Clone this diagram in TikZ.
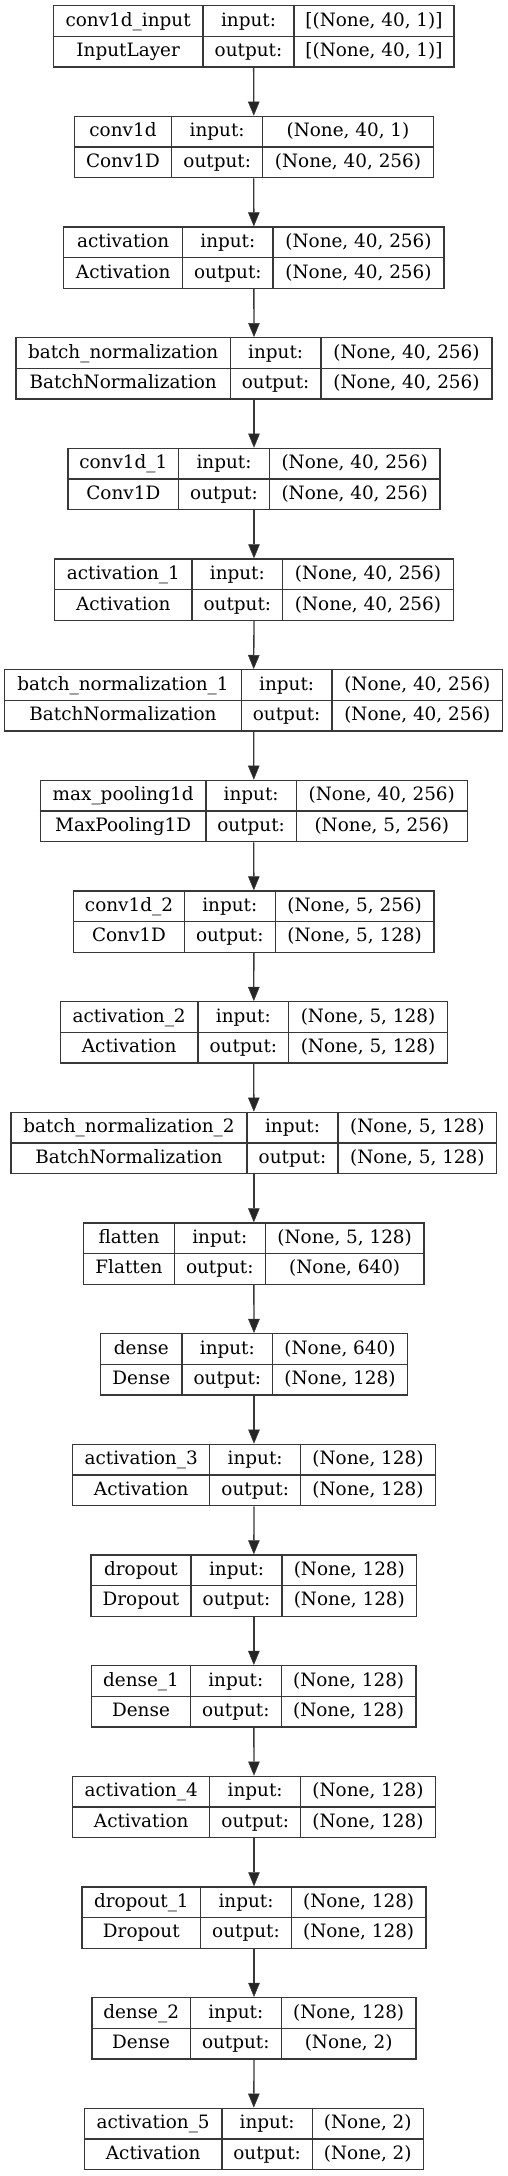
\documentclass[tikz,border=0pt]{standalone}
\usepackage{fontspec}
\setmainfont{DejaVu Serif}
\usetikzlibrary{arrows.meta}
\begin{document}
\begin{tikzpicture}[x=1pt,y=-1pt,
  layerbox/.style={draw=black!78, rectangle, inner sep=0pt, line width=1.33pt},
  divider/.style={draw=black!78, line width=1.33pt},
  txt/.style={anchor=base, inner sep=0pt, font=\fontsize{18.4}{22}\selectfont},
  conn/.style={draw=black!78, line width=1.33pt, -{Triangle[length=14pt,width=11.5pt,fill=black!85,line width=0.5pt]}}]
\useasboundingbox (0,0) rectangle (508,2176);
\foreach \i/\xl/\da/\db/\xr/\lname/\cls/\ish/\osh in {
1/53.3/203/294/454/conv1d\_input/InputLayer/{[(None, 40, 1)]}/{[(None, 40, 1)]},
2/74.3/171.7/262.7/433.3/conv1d/Conv1D/{(None, 40, 1)}/{(None, 40, 256)},
3/63.7/182.7/273/444/activation/Activation/{(None, 40, 256)}/{(None, 40, 256)},
4/16/230.3/321/492/batch\_normalization/BatchNormalization/{(None, 40, 256)}/{(None, 40, 256)},
5/68/178.7/269.3/440/conv1d\_1/Conv1D/{(None, 40, 256)}/{(None, 40, 256)},
6/54.7/192/282.7/453.3/activation\_1/Activation/{(None, 40, 256)}/{(None, 40, 256)},
7/4.7/241.3/332/502.7/batch\_normalization\_1/BatchNormalization/{(None, 40, 256)}/{(None, 40, 256)},
8/40.3/206/296.3/467.3/max\_pooling1d/MaxPooling1D/{(None, 40, 256)}/{(None, 5, 256)},
9/73.7/184.3/275.3/434/conv1d\_2/Conv1D/{(None, 5, 256)}/{(None, 5, 128)},
10/60.3/198/288.7/447.3/activation\_2/Activation/{(None, 5, 128)}/{(None, 5, 128)},
11/11/247/338/496.7/batch\_normalization\_2/BatchNormalization/{(None, 5, 128)}/{(None, 5, 128)},
12/83.7/174.3/265.3/424/flatten/Flatten/{(None, 5, 128)}/{(None, 640)},
13/100.7/182/272.7/407.3/dense/Dense/{(None, 640)}/{(None, 128)},
14/72.7/209.7/300.7/435.3/activation\_3/Activation/{(None, 128)}/{(None, 128)},
15/91/191/282/416.7/dropout/Dropout/{(None, 128)}/{(None, 128)},
16/91.7/190.3/281.3/416/dense\_1/Dense/{(None, 128)}/{(None, 128)},
17/72.7/209.7/300.7/435.3/activation\_4/Activation/{(None, 128)}/{(None, 128)},
18/82/200.7/291.3/426/dropout\_1/Dropout/{(None, 128)}/{(None, 128)},
19/92/190.3/281.3/416/dense\_2/Dense/{(None, 128)}/{(None, 2)},
20/84.3/222/312.3/423.3/activation\_5/Activation/{(None, 2)}/{(None, 2)}}{
  \pgfmathsetmacro\ty{5.7+(\i-1)*110.66}
  \pgfmathsetmacro\cx{(\xl+\xr)/2}
  \pgfmathsetmacro\w{\xr-\xl}
  \node[layerbox, minimum width=\w pt, minimum height=61.3pt] (L\i) at (\cx,\ty+30.65) {};
  \draw[divider] (L\i.west) -- (L\i.east);
  \draw[divider] (\da,0 |- L\i.north) -- (\da,0 |- L\i.south);
  \draw[divider] (\db,0 |- L\i.north) -- (\db,0 |- L\i.south);
  \node[txt] (L\i-name) at ({(\xl+\da)/2},\ty+20.5) {\lname};
  \node[txt] (L\i-cls) at ({(\xl+\da)/2},\ty+51) {\cls};
  \node[txt] (L\i-inl) at ({(\da+\db)/2},\ty+20.5) {input:};
  \node[txt] (L\i-outl) at ({(\da+\db)/2},\ty+51) {output:};
  \node[txt] (L\i-in) at ({(\db+\xr)/2},\ty+20.5) {\ish};
  \node[txt] (L\i-out) at ({(\db+\xr)/2},\ty+51) {\osh};
}
\foreach \i [evaluate=\i as \j using int(\i+1)] in {1,...,19}{
  \draw[conn] (L\i.south) -- (L\j.north);
}
\end{tikzpicture}
\end{document}
